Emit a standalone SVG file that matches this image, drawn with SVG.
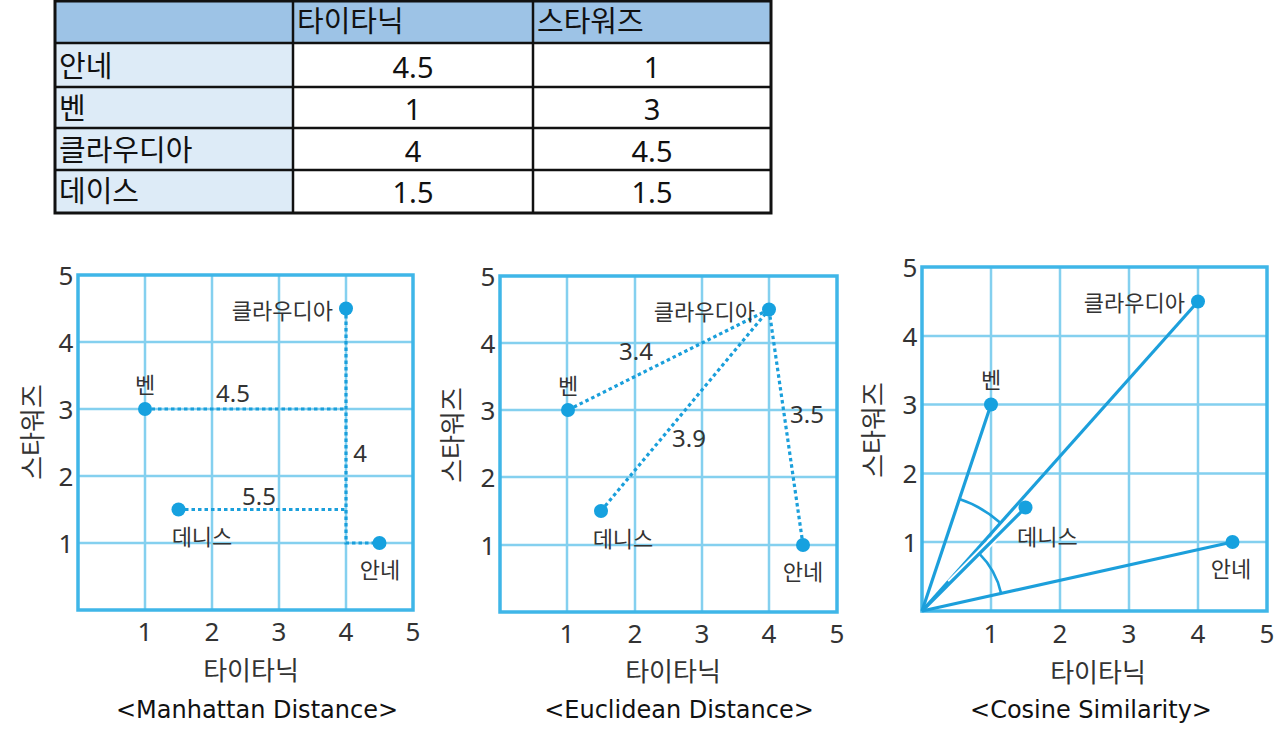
<svg xmlns="http://www.w3.org/2000/svg" width="1280" height="740" viewBox="0 0 1280 740">
<style>
.tt{font-family:"Noto Sans CJK KR","Noto Sans",sans-serif;font-size:29px;fill:#111}
.tn{font-family:"Noto Sans","Noto Sans CJK KR",sans-serif;font-size:29px;fill:#111;text-anchor:middle}
.grid{stroke:#84d0ef;stroke-width:2.5;fill:none}
.frame{stroke:#3fb6e8;stroke-width:3.5;fill:none}
.tick{font-family:"Noto Sans",sans-serif;font-size:26px;fill:#333;text-anchor:middle}
.lab{font-family:"Noto Sans CJK KR",sans-serif;font-size:22px;fill:#333}
.num{font-family:"Noto Sans",sans-serif;font-size:24px;fill:#333;text-anchor:middle}
.ax{font-family:"Noto Sans CJK KR",sans-serif;font-size:26px;fill:#333;text-anchor:middle}
.cap{font-family:"DejaVu Sans",sans-serif;font-size:24px;fill:#111;text-anchor:middle}
.dot{fill:#16a1df}
.dash{stroke:#1a9fdb;stroke-width:3.2;stroke-dasharray:3.5 3;fill:none}
.sol{stroke:#1c9fdb;stroke-width:3.2;fill:none}
.arc{stroke:#1c9fdb;stroke-width:2.6;fill:none}
.m{text-anchor:middle}
.e{text-anchor:end}
</style>

<g id="table">
  <rect x="55" y="1" width="716" height="42" fill="#9dc3e6"/>
  <rect x="55" y="43" width="238" height="170" fill="#ddebf7"/>
  <rect x="293" y="43" width="478" height="170" fill="#ffffff"/>
  <g stroke="#111" stroke-width="2.5">
    <line x1="55" y1="43" x2="771" y2="43"/>
    <line x1="55" y1="87" x2="771" y2="87"/>
    <line x1="55" y1="128" x2="771" y2="128"/>
    <line x1="55" y1="170" x2="771" y2="170"/>
    <line x1="293" y1="1" x2="293" y2="213"/>
    <line x1="533" y1="1" x2="533" y2="213"/>
  </g>
  <rect x="55" y="1" width="716" height="212" fill="none" stroke="#111" stroke-width="3"/>
  <text class="tt" x="297" y="32">타이타닉</text>
  <text class="tt" x="537" y="32">스타워즈</text>
  <text class="tt" x="59" y="77">안네</text>
  <text class="tt" x="59" y="119">벤</text>
  <text class="tt" x="59" y="161">클라우디아</text>
  <text class="tt" x="59" y="202">데이스</text>
  <text class="tn" x="413" y="78">4.5</text>
  <text class="tn" x="652" y="78">1</text>
  <text class="tn" x="413" y="120">1</text>
  <text class="tn" x="652" y="120">3</text>
  <text class="tn" x="413" y="162">4</text>
  <text class="tn" x="652" y="162">4.5</text>
  <text class="tn" x="413" y="203">1.5</text>
  <text class="tn" x="652" y="203">1.5</text>
</g>

<!-- Manhattan -->
<g id="manhattan-chart">
  <path class="grid" d="M145,275V610M212,275V610M279,275V610M346,275V610M78,342H413M78,409H413M78,476H413M78,543H413"/>
  <rect class="frame" x="78" y="275" width="335" height="335"/>
  <text class="tick" x="66" y="285">5</text>
  <text class="tick" x="66" y="352">4</text>
  <text class="tick" x="66" y="419">3</text>
  <text class="tick" x="66" y="486">2</text>
  <text class="tick" x="66" y="553">1</text>
  <text class="tick" x="145" y="641">1</text>
  <text class="tick" x="212" y="641">2</text>
  <text class="tick" x="279" y="641">3</text>
  <text class="tick" x="346" y="641">4</text>
  <text class="tick" x="413" y="641">5</text>
  <text class="ax" x="251" y="680">타이타닉</text>
  <text class="ax" transform="translate(42,432) rotate(-90)">스타워즈</text>
  <text class="cap" x="257" y="718">&lt;Manhattan Distance&gt;</text>
</g>
<g id="manhattan-connectors">
  <path class="dash" d="M145,409H346"/>
  <path class="dash" d="M178.5,509.5H346"/>
  <path class="dash" d="M346,308.5V543H379.5"/>
</g>
<g id="m-claudia"><circle class="dot" cx="346" cy="308.5" r="7"/><text class="lab e" x="333" y="319">클라우디아</text></g>
<g id="m-ben"><circle class="dot" cx="145" cy="409" r="7"/><text class="lab m" x="145" y="393">벤</text></g>
<g id="m-dennis"><circle class="dot" cx="178.5" cy="509.5" r="7"/><text class="lab m" x="202" y="545">데니스</text></g>
<g id="m-anne"><circle class="dot" cx="379.5" cy="543" r="7"/><text class="lab m" x="380" y="578">안네</text></g>
<g id="m-labels">
  <text class="num" x="233" y="402">4.5</text>
  <text class="num" x="360" y="462">4</text>
  <text class="num" x="259" y="505">5.5</text>
</g>

<!-- Euclidean -->
<g id="euclidean-chart">
  <path class="grid" d="M567,276V612M635,276V612M702,276V612M769,276V612M500,343H837M500,410H837M500,477H837M500,545H837"/>
  <rect class="frame" x="500" y="276" width="337" height="336"/>
  <text class="tick" x="488" y="286">5</text>
  <text class="tick" x="488" y="353">4</text>
  <text class="tick" x="488" y="420">3</text>
  <text class="tick" x="488" y="487">2</text>
  <text class="tick" x="488" y="555">1</text>
  <text class="tick" x="567" y="643">1</text>
  <text class="tick" x="635" y="643">2</text>
  <text class="tick" x="702" y="643">3</text>
  <text class="tick" x="769" y="643">4</text>
  <text class="tick" x="837" y="643">5</text>
  <text class="ax" x="673" y="681">타이타닉</text>
  <text class="ax" transform="translate(462,435) rotate(-90)">스타워즈</text>
  <text class="cap" x="679" y="718">&lt;Euclidean Distance&gt;</text>
</g>
<g id="euclidean-connectors">
  <path class="dash" d="M568,410L769,309.5"/>
  <path class="dash" d="M601,511L769,309.5"/>
  <path class="dash" d="M803,545L769,309.5"/>
</g>
<g id="e-claudia"><circle class="dot" cx="769" cy="309.5" r="7"/><text class="lab e" x="755" y="320">클라우디아</text></g>
<g id="e-ben"><circle class="dot" cx="568" cy="410" r="7"/><text class="lab m" x="568" y="394">벤</text></g>
<g id="e-dennis"><circle class="dot" cx="601" cy="511" r="7"/><text class="lab m" x="623" y="547">데니스</text></g>
<g id="e-anne"><circle class="dot" cx="803" cy="545" r="7"/><text class="lab m" x="803" y="580">안네</text></g>
<g id="e-labels">
  <text class="num" x="636" y="360">3.4</text>
  <text class="num" x="807" y="423">3.5</text>
  <text class="num" x="689" y="447">3.9</text>
</g>

<!-- Cosine -->
<g id="cosine-chart">
  <path class="grid" d="M991,267V611M1060,267V611M1129,267V611M1198,267V611M922,336H1267M922,404.5H1267M922,473.5H1267M922,542H1267"/>
  <rect class="frame" x="922" y="267" width="345" height="344"/>
  <text class="tick" x="910" y="277">5</text>
  <text class="tick" x="910" y="346">4</text>
  <text class="tick" x="910" y="414">3</text>
  <text class="tick" x="910" y="483">2</text>
  <text class="tick" x="910" y="552">1</text>
  <text class="tick" x="991" y="643">1</text>
  <text class="tick" x="1060" y="643">2</text>
  <text class="tick" x="1129" y="643">3</text>
  <text class="tick" x="1198" y="643">4</text>
  <text class="tick" x="1267" y="643">5</text>
  <text class="ax" x="1098" y="682">타이타닉</text>
  <text class="ax" transform="translate(883,430) rotate(-90)">스타워즈</text>
  <text class="cap" x="1091" y="718">&lt;Cosine Similarity&gt;</text>
</g>
<g id="cosine-connectors">
  <path class="sol" d="M922,611L991,404.5"/>
  <path class="sol" d="M922,611L1198,301.5"/>
  <path d="M950,583L1025.5,507.5" stroke="#ffffff" stroke-width="7" fill="none"/>
  <path class="sol" d="M922,611L1025.5,507.5"/>
  <path class="sol" d="M922,611L1232.5,542"/>
  <path class="arc" d="M959.3,499.1A118,118 0 0 1 1000.3,522.7"/>
  <path class="arc" d="M979.3,553.7A81,81 0 0 1 1001.1,593.4"/>
</g>
<g id="c-claudia"><circle class="dot" cx="1198" cy="301.5" r="7"/><text class="lab e" x="1185" y="311">클라우디아</text></g>
<g id="c-ben"><circle class="dot" cx="991" cy="404.5" r="7"/><text class="lab m" x="991" y="388">벤</text></g>
<g id="c-dennis"><circle class="dot" cx="1025.5" cy="507.5" r="7"/><text class="lab" x="1017" y="545">데니스</text></g>
<g id="c-anne"><circle class="dot" cx="1232.5" cy="542" r="7"/><text class="lab m" x="1231" y="577">안네</text></g>
</svg>
